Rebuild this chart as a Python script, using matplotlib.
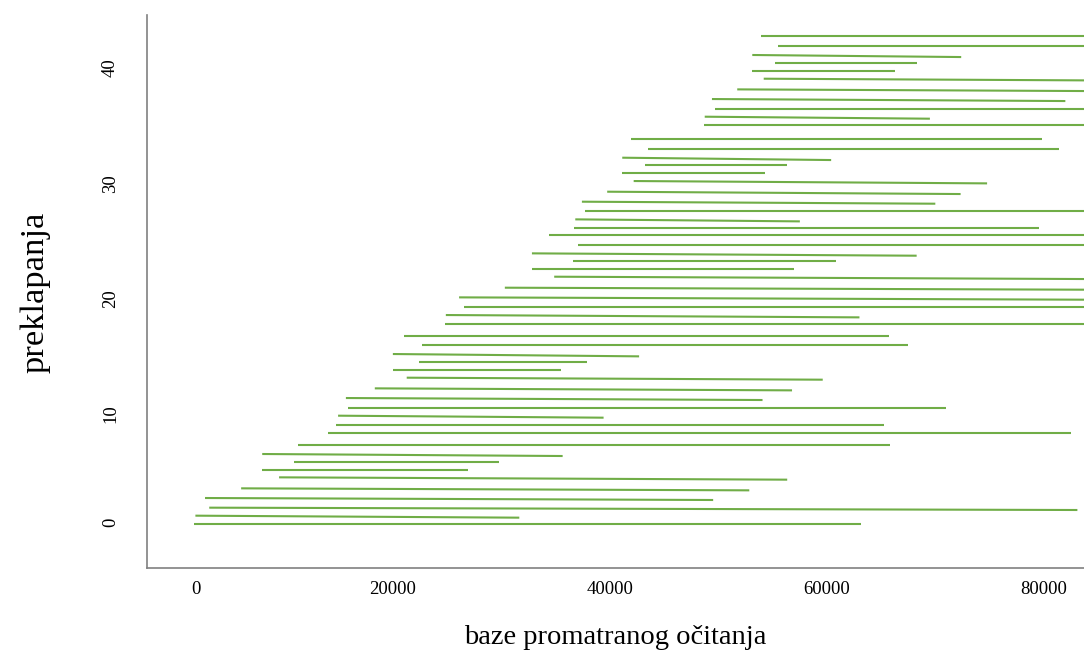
import matplotlib
matplotlib.use("Agg")
import matplotlib.pyplot as plt

# segment data, ordered bottom to top
x_start = [1604, 1771, 3048, 2659, 5992, 9492, 7937, 10881, 7937, 11214,
           13992, 14769, 14936, 15880, 15658, 18325, 21269, 19991, 22380, 19991,
           22657, 20991, 24768, 24879, 26546, 26102, 30323, 34878, 32823, 36600,
           32823, 37100, 34378, 36712, 36823, 37711, 37434, 39767, 42211, 41156,
           43211, 41156, 43489, 41989, 48710, 48766, 49710, 49433, 51766, 54210,
           53154, 55210, 53154, 55487, 53932]
x_end = [63209, 31657, 83151, 49544, 52877, 56376, 26879, 29823, 35656, 65820,
         82540, 65320, 39434, 70986, 54099, 56821, 59654, 35489, 37934, 42711,
         67486, 65764, 83800, 63042, 83800, 83800, 83800, 83800, 57043, 60876,
         68320, 83800, 83800, 79596, 57543, 83800, 70042, 72375, 74819, 54321,
         56376, 60431, 81429, 79929, 83800, 69542, 83800, 82040, 83800, 83800,
         66320, 68375, 72430, 83800, 83800]
y_start = [0.439, 1.190, 1.883, 2.721, 3.559, 4.512, 5.176, 5.869, 6.534, 7.314,
           8.325, 9.076, 9.855, 10.548, 11.386, 12.224, 13.148, 13.841, 14.506, 15.199,
           15.950, 16.788, 17.827, 18.578, 19.243, 20.109, 20.947, 21.900, 22.536, 23.229,
           23.923, 24.674, 25.511, 26.118, 26.869, 27.562, 28.400, 29.266, 30.191, 30.855,
           31.548, 32.213, 32.964, 33.830, 35.015, 35.766, 36.459, 37.297, 38.134, 39.059,
           39.752, 40.445, 41.114, 41.889, 42.727]
y_end = [0.439, 1.017, 1.681, 2.548, 3.385, 4.310, 5.176, 5.869, 6.360, 7.314,
         8.325, 9.076, 9.682, 10.548, 11.213, 12.050, 12.975, 13.841, 14.506, 14.997,
         15.950, 16.788, 17.827, 18.376, 19.243, 19.907, 20.774, 21.698, 22.536, 23.229,
         23.720, 24.674, 25.511, 26.118, 26.695, 27.562, 28.226, 29.064, 29.988, 30.855,
         31.548, 32.010, 32.964, 33.830, 35.015, 35.593, 36.459, 37.123, 37.990, 38.914,
         39.752, 40.445, 40.936, 41.889, 42.727]

x_ticks = [0, 20000, 40000, 60000, 80000]
x_tick_labels = ["0", "20000", "40000", "60000", "80000"]
y_ticks = [0, 10, 20, 30, 40]
y_tick_labels = ["0", "10", "20", "30", "40"]

x_label = "baze promatranog očitanja"
y_label = "preklapanja"

plt.rcParams['font.family'] = ['Liberation Serif', 'DejaVu Serif']

W, H = 1084, 657
fig = plt.figure(figsize=(W / 100, H / 100), dpi=100)
left_px, right_px, top_px, bottom_px = 146.7, 1084, 15, 568
ax = fig.add_axes([left_px / W, (H - bottom_px) / H,
                   (right_px - left_px) / W, (bottom_px - top_px) / H])

line_color = '#70AD47'
for xs, xe, ys, ye in zip(x_start, x_end, y_start, y_end):
    ax.plot([xs, xe], [ys, ye], color=line_color, lw=1.5, solid_capstyle='butt')

ax.set_xlim(-2722, 83761)
ax.set_ylim(-3.345, 44.58)

for s in ['top', 'right']:
    ax.spines[s].set_visible(False)
for s in ['left', 'bottom']:
    ax.spines[s].set_color('#808080')
    ax.spines[s].set_linewidth(1.2)

tick_fs = 13.5
xpad, ypad = 9, 20
ax.set_xticks(x_ticks)
ax.set_xticklabels([""] + x_tick_labels[1:])
ax.set_yticks(y_ticks)
ax.set_yticklabels([""] + y_tick_labels[1:], rotation=90, va='center')
ax.tick_params(axis='x', length=0, labelsize=tick_fs, pad=xpad)
ax.tick_params(axis='y', length=0, labelsize=tick_fs, pad=ypad)

# the "0" labels sit slightly shifted in the reference
ax.annotate(x_tick_labels[0], xy=(x_ticks[0], 0), xycoords=('data', 'axes fraction'),
            xytext=(14.3, -xpad), textcoords='offset points',
            ha='center', va='top', fontsize=tick_fs, annotation_clip=False)
ax.annotate(y_tick_labels[0], xy=(0, y_ticks[0]), xycoords=('axes fraction', 'data'),
            xytext=(-ypad, 5.3), textcoords='offset points', rotation=90,
            ha='right', va='center', fontsize=tick_fs, annotation_clip=False)

ax.set_xlabel(x_label, fontsize=20.5, va='center')
ax.xaxis.set_label_coords(0.5, (bottom_px - 637) / (bottom_px - top_px))
ax.set_ylabel(y_label, fontsize=24.8, va='center')
ax.yaxis.set_label_coords((35 - left_px) / (right_px - left_px), (bottom_px - 292) / (bottom_px - top_px))

fig.savefig("out.png", dpi=100)
